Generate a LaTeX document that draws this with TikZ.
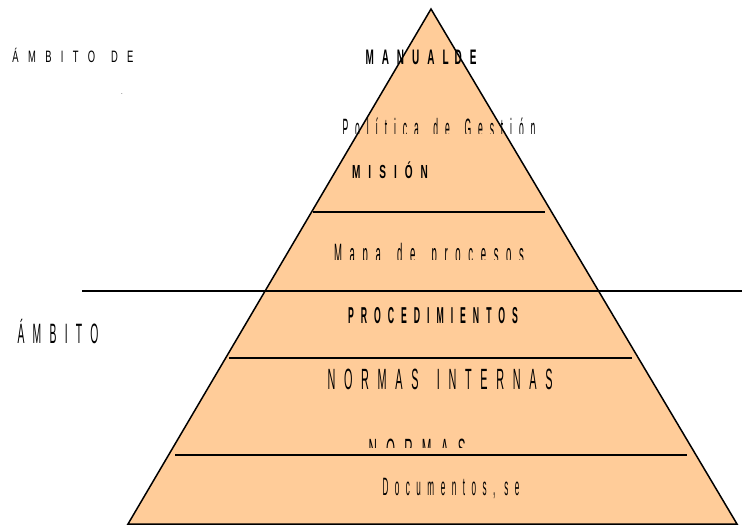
\documentclass[tikz,border=0pt]{standalone}
\usepackage{fontspec}
\usepackage{graphicx}
\setmainfont{Liberation Sans}
\definecolor{peach}{HTML}{FFCC99}
\newcommand{\sptext}[4]{\resizebox{#1pt}{\height}{\fontsize{#2pt}{#2pt}\selectfont\addfontfeatures{LetterSpace=#3}#4}}
\newcommand{\ws}{\hspace{1.7em}}
\tikzset{
  lbl/.style={inner sep=0pt, outer sep=0pt, anchor=base, text=black},
  edge/.style={draw=black, line width=1.5pt, line join=miter},
  sep/.style={draw=black, line width=1.6pt}
}
\begin{document}
\begin{tikzpicture}[x=1pt,y=-1pt]
\useasboundingbox (0,0) rectangle (742,528);
% pyramid fill
\coordinate (apex) at (431,9);
\coordinate (bl) at (128,524);
\coordinate (br) at (737,524);
\fill[peach] (apex) -- (bl) -- (br) -- cycle;
% texts
\node[lbl] (ambde) at (73,62) {\sptext{121}{16.5}{100}{ÁMBITO\ws DE}};
\node[lbl] (dot) at (122,94) {\fontsize{6pt}{6pt}\selectfont .};
\node[lbl] (manual) at (421,64) {\sptext{111}{21}{80}{\bfseries MANUAL\hspace{0.6em}DE}};
\begin{scope}
\clip (0,0) rectangle (742,133);
\node[lbl] (politica) at (439,137) {\sptext{193}{26.5}{80}{Política\ws de\ws Gestión}};
\end{scope}
\node[lbl] (mision) at (390,178.5) {\sptext{76}{18.9}{80}{\bfseries MISIÓN}};
\begin{scope}
\clip (0,0) rectangle (742,259);
\node[lbl] (mapa) at (429,263) {\sptext{190}{28}{80}{Mapa\ws de\ws procesos}};
\end{scope}
\node[lbl] (proc) at (433,323) {\sptext{170}{23}{80}{\bfseries PROCEDIMIENTOS}};
\node[lbl] (amb) at (58,343) {\sptext{81}{28}{80}{ÁMBITO}};
\node[lbl] (normint) at (440,389) {\sptext{225}{29.3}{80}{NORMAS\ws INTERNAS}};
\begin{scope}
\clip (0,0) rectangle (742,447);
\node[lbl] (normas) at (417,459) {\sptext{97}{29.3}{80}{NORMAS}};
\end{scope}
\node[lbl] (docs) at (451,495) {\sptext{137}{25.1}{80}{Documentos,\hspace{1.1em}se}};
% outlines
\draw[edge] (apex) -- (bl) -- (br) -- cycle;
\coordinate (l1a) at (313,212); \coordinate (l1b) at (545,212);
\coordinate (l2a) at (82,291);  \coordinate (l2b) at (742,291);
\coordinate (l3a) at (229,358); \coordinate (l3b) at (632,358);
\coordinate (l4a) at (175,455); \coordinate (l4b) at (687,455);
\draw[sep] (l1a) -- (l1b);
\draw[draw=black, line width=1.3pt] (l2a) -- (l2b);
\draw[sep] (l3a) -- (l3b);
\draw[sep] (l4a) -- (l4b);
\end{tikzpicture}
\end{document}
